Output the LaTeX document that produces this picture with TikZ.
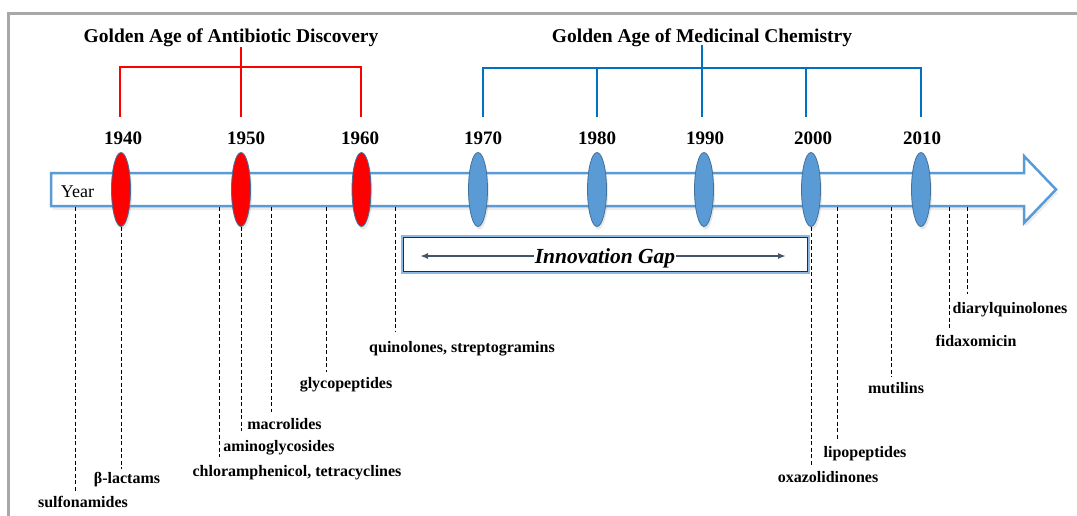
\documentclass[tikz,border=0pt]{standalone}
\usepackage{fontspec}
\setmainfont{Liberation Serif}
\usetikzlibrary{shapes.geometric,arrows.meta,shadows}
\definecolor{bblue}{HTML}{5B9BD5}
\definecolor{bedge}{HTML}{41719C}
\definecolor{lblue}{HTML}{0070C0}
\definecolor{navy}{HTML}{1F2D4A}
\definecolor{slate}{HTML}{44546A}
\definecolor{framegray}{HTML}{A8A8A8}
\begin{document}
\begin{tikzpicture}[x=1pt,y=-1pt,
  yr/.style={ellipse, draw=bedge, line width=0.8pt, minimum width=19pt, minimum height=74pt, inner sep=0pt,
    drop shadow={opacity=0.18, shadow xshift=1.5pt, shadow yshift=-3pt}},
  redyr/.style={yr, fill=red},
  blueyr/.style={yr, fill=bblue},
  title/.style={font=\fontsize{19.5}{22}\selectfont\bfseries, inner sep=0pt, anchor=base},
  yearlab/.style={font=\fontsize{19}{22}\selectfont\bfseries, inner sep=0pt, anchor=base},
  lab/.style={font=\fontsize{16}{18}\selectfont\bfseries, inner sep=0pt, anchor=base},
  lead/.style={draw=black, dash pattern=on 4pt off 2.5pt, line width=0.9pt},
  redbr/.style={draw=red, line width=2pt},
  bluebr/.style={draw=lblue, line width=2pt}]
\useasboundingbox (0,0) rectangle (1077,515);
\fill[white] (0,0) rectangle (1077,515);
% frame
\draw[framegray, line width=3pt] (8.5,530) -- (8.5,13.5) -- (1090,13.5);

% titles
\node[title] (tA) at (231,42) {Golden Age of Antibiotic Discovery};
\node[title] (tM) at (702,42) {Golden Age of Medicinal Chemistry};

% timeline arrow
\draw[bblue, line width=2.5pt, fill=white, line join=miter,
  drop shadow={opacity=0.15, shadow xshift=1.5pt, shadow yshift=-4pt}]
  (51,173) -- (1024,173) -- (1024,156) -- (1056,189.5) -- (1024,223) -- (1024,206) -- (51,206) -- cycle;
\node[font=\fontsize{18}{20}\selectfont, inner sep=0pt, anchor=base] (year) at (77.5,197) {Year};

% ellipses
\node[redyr] (e1940) at (121,189.5) {};
\node[redyr] (e1950) at (241,189.5) {};
\node[redyr] (e1960) at (361.5,189.5) {};
\node[blueyr] (e1970) at (478,189.5) {};
\node[blueyr] (e1980) at (597,189.5) {};
\node[blueyr] (e1990) at (704,189.5) {};
\node[blueyr] (e2000) at (811,189.5) {};
\node[blueyr] (e2010) at (921,189.5) {};

% year labels
\node[yearlab] (y1940) at (123,144) {1940};
\node[yearlab] (y1950) at (246,144) {1950};
\node[yearlab] (y1960) at (360,144) {1960};
\node[yearlab] (y1970) at (483,144) {1970};
\node[yearlab] (y1980) at (597,144) {1980};
\node[yearlab] (y1990) at (705,144) {1990};
\node[yearlab] (y2000) at (813,144) {2000};
\node[yearlab] (y2010) at (922,144) {2010};

% brackets
\coordinate (rA) at (241,47);
\coordinate (rL) at (120,117);
\coordinate (rM) at (241,117);
\coordinate (rR) at (361,117);
\draw[redbr] (rL) -- (120,67) -- (361,67) -- (rR);
\draw[redbr] (rA) -- (rM);

\coordinate (bA) at (702,45);
\coordinate (b1) at (483,117);
\coordinate (b2) at (597,117);
\coordinate (b3) at (702,117);
\coordinate (b4) at (806,117);
\coordinate (b5) at (921,117);
\draw[bluebr] (b1) -- (483,68) -- (921,68) -- (b5);
\draw[bluebr] (bA) -- (b3);
\draw[bluebr] (b2) -- (597,68);
\draw[bluebr] (b4) -- (806,68);

% innovation gap box
\node[draw=navy, line width=1.6pt, fill=white, minimum width=404pt, minimum height=34pt, inner sep=0pt,
  preaction={draw=bblue!70, line width=5pt}] (gapbox) at (605.5,254.5) {};
\node[font=\fontsize{21.5}{24}\selectfont\bfseries\itshape, inner sep=1pt, anchor=base] (gap) at (605,263) {Innovation Gap};
\coordinate (gl) at (420,256);
\coordinate (gr) at (786,256);
\draw[slate, line width=1.6pt, -{Latex[length=8pt,width=6pt]}] (gap.west |- gl) -- (gl);
\draw[slate, line width=1.6pt, -{Latex[length=8pt,width=6pt]}] (gap.east |- gr) -- (gr);

% labels
\node[lab] (sulf) at (83,507.5) {sulfonamides};
\node[lab] (beta) at (127,483.5) {β-lactams};
\node[lab] (chlor) at (297,476.5) {chloramphenicol, tetracyclines};
\node[lab] (amino) at (279,451.5) {aminoglycosides};
\node[lab] (macro) at (284.5,429.5) {macrolides};
\node[lab] (glyco) at (346,388.5) {glycopeptides};
\node[lab] (quino) at (462,352.5) {quinolones, streptogramins};
\node[lab] (oxaz) at (828,482.5) {oxazolidinones};
\node[lab] (lipo) at (865,457.5) {lipopeptides};
\node[lab] (muti) at (896,393.5) {mutilins};
\node[lab] (fida) at (976,346.5) {fidaxomicin};
\node[lab] (diar) at (1010,313.5) {diarylquinolones};

% leader lines
\coordinate (s1) at (75,207); \coordinate (t1) at (75,492);
\coordinate (t2) at (121,469);
\coordinate (s3) at (219,207); \coordinate (t3) at (219,457);
\coordinate (t4) at (241,431);
\coordinate (s5) at (271,207); \coordinate (t5) at (271,412);
\coordinate (s6) at (326,207); \coordinate (t6) at (326,372);
\coordinate (s7) at (395,207); \coordinate (t7) at (395,332);
\coordinate (t8) at (811,465);
\coordinate (s9) at (837,207); \coordinate (t9) at (837,441);
\coordinate (s10) at (891,207); \coordinate (t10) at (891,377);
\coordinate (s11) at (949,207); \coordinate (t11) at (949,330);
\coordinate (s12) at (967,207); \coordinate (t12) at (967,294);
\draw[lead] (s1) -- (t1);
\draw[lead] (e1940.south) -- (t2);
\draw[lead] (s3) -- (t3);
\draw[lead] (e1950.south) -- (t4);
\draw[lead] (s5) -- (t5);
\draw[lead] (s6) -- (t6);
\draw[lead] (s7) -- (t7);
\draw[lead] (e2000.south) -- (t8);
\draw[lead] (s9) -- (t9);
\draw[lead] (s10) -- (t10);
\draw[lead] (s11) -- (t11);
\draw[lead] (s12) -- (t12);
\end{tikzpicture}
\end{document}
